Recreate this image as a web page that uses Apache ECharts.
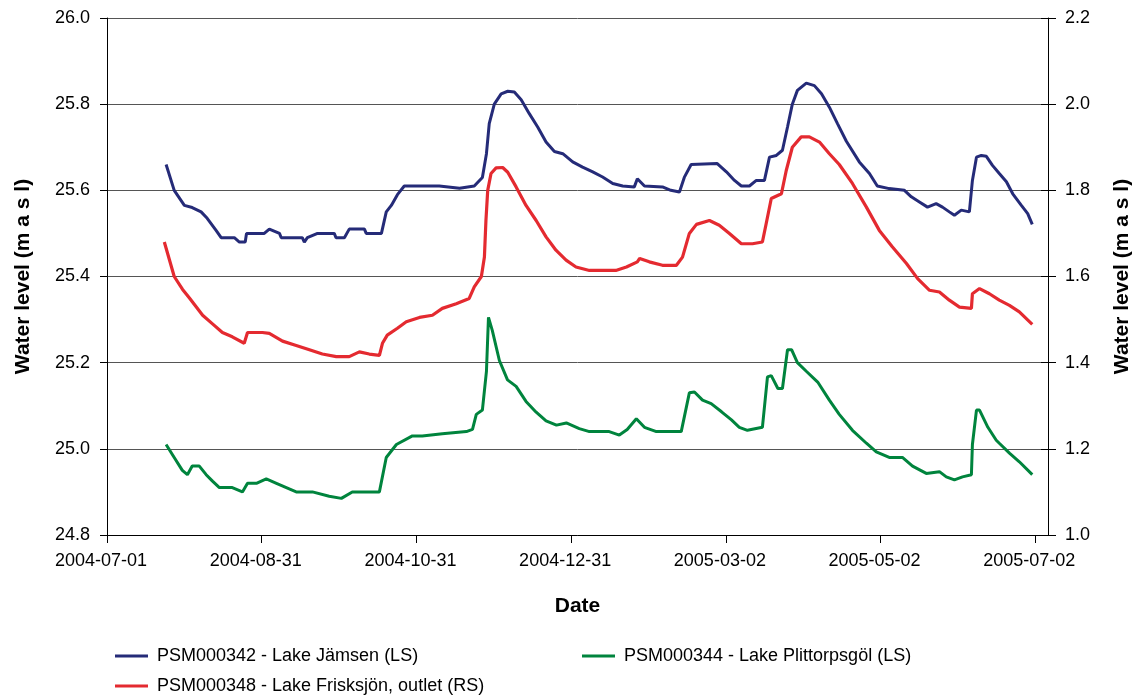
<!DOCTYPE html>
<html><head><meta charset="utf-8">
<script src="https://cdn.jsdelivr.net/npm/echarts@6/dist/echarts.min.js"></script>
<style>html,body{margin:0;padding:0;background:#fff}#c{width:1136px;height:695px}</style>
</head><body><div id="c"></div>
<script>
// Day offsets are counted from START_DATE
const START_DATE = [2004, 6, 1]; // 2004-07-01 (month 0-based)
const X_MAX_DAY = 371;
const X_TICK_STEP = 61;

const NAME_JAMSEN = 'PSM000342 - Lake Jämsen (LS)';
const NAME_PLITT = 'PSM000344 - Lake Plittorpsgöl (LS)';
const NAME_FRISK = 'PSM000348 - Lake Frisksjön, outlet (RS)';

const jamsenDay = [23.3,26.5,30.5,33.6,37.1,39.5,43,45,50.2,52.2,54.5,55,62,64,68,68.7,77,77.8,79,83,89.6,90.3,93.6,95.5,101.5,102.2,108.2,110.1,112.1,114.5,117.2,131,139,144.8,148,149.6,150.7,152.7,155.4,158,160.6,163.3,166.5,169.8,173.1,176.4,179.7,183.6,187.5,191.5,195.4,199.4,203.3,207.9,209.1,211.9,219,222.3,225.7,227.6,230.3,240.6,244.2,247.4,250.1,253.3,256,259.2,261.2,263.9,266.3,268.3,270.2,272.2,275.7,278.9,281.7,284.8,288,291.5,296.6,300.6,303.7,308.4,314.4,317.1,320.3,323.5,326.9,329.4,332.1,334.1,336.8,340,341.2,342.8,344.7,346.7,349.1,351.8,354.6,357.1,360.5,363,364.8];
const jamsenLevel = [25.66,25.60,25.565,25.56,25.55,25.535,25.507,25.49,25.49,25.48,25.48,25.50,25.50,25.51,25.50,25.49,25.49,25.48,25.49,25.50,25.50,25.49,25.49,25.51,25.51,25.50,25.50,25.55,25.565,25.59,25.61,25.61,25.605,25.61,25.63,25.685,25.755,25.80,25.824,25.83,25.828,25.81,25.778,25.747,25.712,25.69,25.685,25.666,25.654,25.643,25.631,25.616,25.61,25.608,25.627,25.61,25.608,25.60,25.596,25.63,25.66,25.662,25.643,25.623,25.61,25.61,25.623,25.623,25.677,25.681,25.693,25.747,25.80,25.832,25.849,25.843,25.824,25.793,25.755,25.714,25.666,25.639,25.61,25.604,25.60,25.585,25.573,25.561,25.569,25.561,25.55,25.542,25.554,25.55,25.623,25.677,25.681,25.679,25.658,25.639,25.62,25.592,25.565,25.546,25.521];

const plittDay = [23.3,26.5,29.7,31.7,33.6,36.4,39.1,41.6,44.3,49.4,53.4,55.4,58.9,62.8,66.8,70.7,74.6,81,87.6,92.4,96.7,107.4,110.1,114.1,120.4,124.3,132.2,141.7,144.1,145.6,148,149.6,150.4,151.9,154.7,157.9,161.3,165.2,169.2,173.1,177.2,181.1,186.2,190.2,198,202,205.1,208.7,211.9,216.6,226.4,229.6,231.6,234.8,238.2,242.3,246.2,249.3,252.5,258.4,260.4,261.9,264.5,266.3,268.3,269.9,272.2,275.7,280.2,284.8,288.7,293.9,299.4,303.3,308.4,313.6,317.6,323,328.2,330.9,334.1,337.3,340.8,341.2,342.8,344,347.3,350.6,351.8,355.8,359.7,364.8];
const plittLevel = [25.01,24.98,24.95,24.94,24.96,24.96,24.94,24.925,24.91,24.91,24.90,24.92,24.92,24.93,24.92,24.91,24.90,24.90,24.89,24.885,24.90,24.90,24.98,25.01,25.03,25.03,25.035,25.04,25.045,25.08,25.09,25.18,25.305,25.275,25.205,25.16,25.145,25.11,25.085,25.065,25.055,25.06,25.047,25.04,25.04,25.032,25.045,25.07,25.05,25.04,25.04,25.13,25.132,25.113,25.105,25.086,25.067,25.05,25.043,25.05,25.167,25.17,25.14,25.14,25.23,25.23,25.20,25.18,25.155,25.113,25.08,25.043,25.013,24.993,24.98,24.98,24.96,24.943,24.947,24.935,24.928,24.935,24.94,25.01,25.09,25.09,25.05,25.02,25.013,24.99,24.97,24.94];

const friskDay = [22.6,26.5,29.8,32.5,37.7,41.6,45.5,49.4,54.1,55.4,61.3,64,69.2,74.6,79.8,84.9,90.4,95.5,99.5,103.4,107.4,108.6,110.5,114.5,118,123.2,128.3,132.2,137.7,142.8,144.8,147.6,148.8,149.4,150.1,151.4,153.4,156,158,161.3,165.2,169.2,173.1,177,181,184.9,190.2,195.3,200.6,204.8,209.1,210,213.8,219,224.5,226.9,229.6,232.4,237.5,241.4,245.4,250.1,254.5,258.4,259.9,261.9,265.9,267.8,270.2,273.7,276.9,280.9,284.8,288.7,293.9,299.4,304.5,309.6,315.2,319.6,324.3,328.2,332.1,336.1,340.8,341.2,344,347.9,351.8,355.8,359.7,364.8];
const friskLevel = [1.68,1.60,1.57,1.55,1.51,1.49,1.47,1.46,1.445,1.47,1.47,1.468,1.45,1.44,1.43,1.42,1.414,1.414,1.425,1.42,1.417,1.445,1.464,1.48,1.495,1.505,1.51,1.526,1.537,1.549,1.576,1.60,1.645,1.73,1.80,1.839,1.852,1.853,1.842,1.808,1.765,1.73,1.692,1.661,1.638,1.622,1.614,1.614,1.614,1.622,1.634,1.642,1.634,1.626,1.626,1.645,1.70,1.721,1.73,1.719,1.70,1.676,1.676,1.68,1.723,1.781,1.792,1.846,1.90,1.924,1.924,1.912,1.885,1.86,1.816,1.761,1.707,1.669,1.63,1.595,1.568,1.564,1.545,1.529,1.526,1.56,1.572,1.56,1.545,1.533,1.518,1.489];

const zip = (a, b) => a.map((d, i) => [d, b[i]]);
const FONT = '"Liberation Sans", Arial, Helvetica, sans-serif';
const startMs = Date.UTC(START_DATE[0], START_DATE[1], START_DATE[2]);
const dayLabel = v => {
  if (Math.abs(v % X_TICK_STEP) > 1e-6) return '';
  return new Date(startMs + v * 86400000).toISOString().slice(0, 10);
};

const chart = echarts.init(document.getElementById('c'), null, {renderer: 'canvas'});
const axisTextStyle = {fontSize: 18, color: '#000', fontFamily: FONT};
const nameStyle = {fontSize: 21, fontWeight: 'bold', color: '#000', fontFamily: FONT};
const legendCommon = {
  orient: 'horizontal', padding: 0, itemWidth: 33, itemHeight: 3, icon: 'rect',
  selectedMode: false,
  textStyle: {fontSize: 18, color: '#000', fontFamily: FONT, padding: [0, 0, 0, 4]}
};

chart.setOption({
  animation: false,
  backgroundColor: '#fff',
  grid: {left: 107, right: 88, top: 18, bottom: 160, containLabel: false, outerBoundsMode: 'none'},
  legend: [
    Object.assign({left: 115, top: 647, data: [NAME_JAMSEN]}, legendCommon),
    Object.assign({left: 582, top: 647, data: [NAME_PLITT]}, legendCommon),
    Object.assign({left: 115, top: 677, data: [NAME_FRISK]}, legendCommon)
  ],
  xAxis: {
    type: 'value', min: 0, max: X_MAX_DAY, interval: X_TICK_STEP,
    name: 'Date', nameLocation: 'middle', nameGap: 61, nameTextStyle: nameStyle,
    axisLine: {show: true, lineStyle: {color: '#000', width: 1}},
    axisTick: {show: true, inside: false, length: 8, lineStyle: {color: '#000'}},
    axisLabel: Object.assign({margin: 17, formatter: dayLabel, showMaxLabel: false, padding: [0, 12, 0, 0]}, axisTextStyle),
    splitLine: {show: false}
  },
  yAxis: [
    {
      type: 'value', position: 'left', min: 24.8, max: 26.0, interval: 0.2,
      name: 'Water level (m a s l)', nameLocation: 'middle', nameRotate: 90, nameGap: 73, nameTextStyle: nameStyle,
      axisLine: {show: true, lineStyle: {color: '#000', width: 1}},
      axisTick: {show: true, inside: false, length: 7, lineStyle: {color: '#000'}},
      axisLabel: Object.assign({margin: 17, formatter: v => v.toFixed(1)}, axisTextStyle),
      splitLine: {show: true, lineStyle: {color: '#555', width: 1}}
    },
    {
      type: 'value', position: 'right', min: 1.0, max: 2.2, interval: 0.2,
      name: 'Water level (m a s l)', nameLocation: 'middle', nameRotate: 90, nameGap: 64, nameTextStyle: nameStyle,
      axisLine: {show: true, lineStyle: {color: '#000', width: 1}},
      axisTick: {show: true, inside: false, length: 8, lineStyle: {color: '#000'}},
      axisLabel: Object.assign({margin: 17, formatter: v => v.toFixed(1)}, axisTextStyle),
      splitLine: {show: false}
    },
    {
      type: 'value', position: 'right', min: 1.0, max: 2.2, interval: 0.2,
      axisLine: {show: false},
      axisTick: {show: true, inside: true, length: 7, lineStyle: {color: '#000'}},
      axisLabel: {show: false},
      splitLine: {show: false}
    }
  ],
  series: [
    {name: NAME_JAMSEN, type: 'line', yAxisIndex: 0, showSymbol: false, symbol: 'none',
     lineStyle: {color: '#252b78', width: 3}, itemStyle: {color: '#252b78'}, data: zip(jamsenDay, jamsenLevel)},
    {name: NAME_PLITT, type: 'line', yAxisIndex: 0, showSymbol: false, symbol: 'none',
     lineStyle: {color: '#00843d', width: 3}, itemStyle: {color: '#00843d'}, data: zip(plittDay, plittLevel)},
    {name: NAME_FRISK, type: 'line', yAxisIndex: 1, showSymbol: false, symbol: 'none',
     lineStyle: {color: '#e42a30', width: 3.2}, itemStyle: {color: '#e42a30'}, data: zip(friskDay, friskLevel)}
  ]
});
</script>
</body></html>
